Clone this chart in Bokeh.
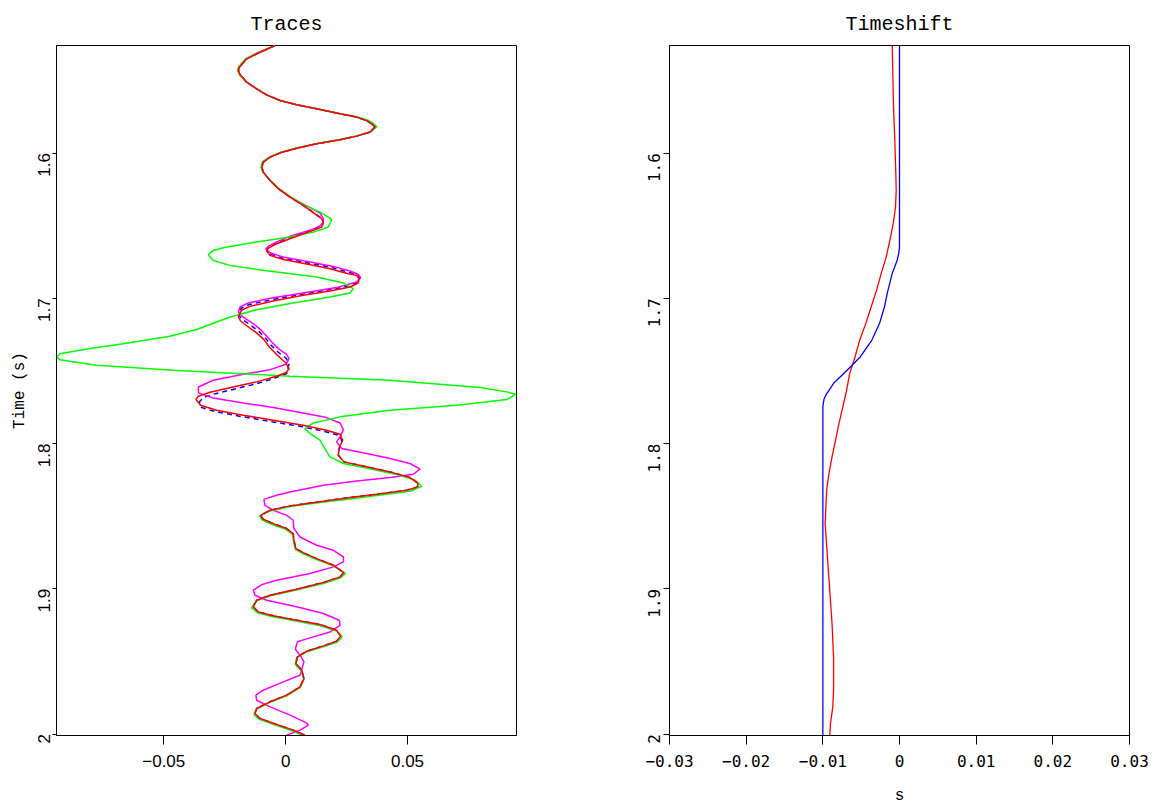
import math
from bokeh.plotting import figure
from bokeh.layouts import row
from bokeh.models import FixedTicker, Range1d
from bokeh.embed import file_html
from bokeh.resources import INLINE

# ---- trace amplitudes (x) against time in seconds (t) ----
# upper part, common to the red, magenta and blue traces
top_pts = [(-0.0044, 1.5259), (-0.0119, 1.5316), (-0.0160, 1.5351), (-0.0190, 1.5408), (-0.0194, 1.5431),
           (-0.0187, 1.5461), (-0.0160, 1.5511), (-0.0119, 1.5557), (-0.0078, 1.5599), (-0.0023, 1.5638),
           (0.0045, 1.5667), (0.0127, 1.5695), (0.0223, 1.5729), (0.0291, 1.5752), (0.0332, 1.5775),
           (0.0353, 1.5798), (0.0367, 1.5821), (0.0346, 1.5855), (0.0291, 1.5883), (0.0223, 1.5908),
           (0.0127, 1.5936), (0.0045, 1.5966), (-0.0023, 1.5998), (-0.0064, 1.6028), (-0.0092, 1.6062),
           (-0.0098, 1.6096), (-0.0092, 1.6131), (-0.0064, 1.6188), (-0.0030, 1.6245), (0.0018, 1.6303)]

# red trace, middle section
red_mid = [(0.0072, 1.6360), (0.0120, 1.6418), (0.0148, 1.6452), (0.0155, 1.6479), (0.0148, 1.6509),
           (0.0114, 1.6532), (0.0072, 1.6555), (0.0018, 1.6590), (-0.0037, 1.6624), (-0.0071, 1.6654),
           (-0.0078, 1.6674), (-0.0064, 1.6704), (-0.0010, 1.6732), (0.0086, 1.6764), (0.0182, 1.6796),
           (0.0257, 1.6830), (0.0291, 1.6841), (0.0301, 1.6864), (0.0298, 1.6894), (0.0264, 1.6922),
           (0.0182, 1.6949), (0.0072, 1.6979), (-0.0051, 1.7018), (-0.0146, 1.7055), (-0.0181, 1.7082),
           (-0.0194, 1.7128), (-0.0185, 1.7156), (-0.0157, 1.7192), (-0.0119, 1.7238), (-0.0089, 1.7284),
           (-0.0067, 1.7335), (-0.0034, 1.7392), (0.0001, 1.7445), (0.0014, 1.7484), (0.0004, 1.7509),
           (-0.0037, 1.7536), (-0.0119, 1.7575), (-0.0215, 1.7610), (-0.0310, 1.7647), (-0.0358, 1.7674),
           (-0.0368, 1.7697), (-0.0349, 1.7736), (-0.0283, 1.7770), (-0.0174, 1.7805), (-0.0051, 1.7839),
           (0.0072, 1.7874), (0.0168, 1.7908), (0.0223, 1.7936), (0.0234, 1.7977), (0.0220, 1.8027),
           (0.0216, 1.8080), (0.0239, 1.8126)]

# lower part, common to the red and blue traces
tail_pts = [(0.0332, 1.8160), (0.0428, 1.8195), (0.0510, 1.8234), (0.0542, 1.8271), (0.0542, 1.8298),
            (0.0497, 1.8321), (0.0373, 1.8349), (0.0264, 1.8371), (0.0155, 1.8397), (0.0018, 1.8429),
            (-0.0064, 1.8459), (-0.0103, 1.8494), (-0.0092, 1.8521), (-0.0051, 1.8551), (0.0004, 1.8585),
            (0.0031, 1.8620), (0.0034, 1.8666), (0.0042, 1.8723), (0.0072, 1.8751), (0.0127, 1.8792),
            (0.0196, 1.8838), (0.0239, 1.8888), (0.0223, 1.8918), (0.0155, 1.8957), (0.0045, 1.9003),
            (-0.0064, 1.9044), (-0.0119, 1.9079), (-0.0133, 1.9124), (-0.0112, 1.9159), (-0.0051, 1.9186),
            (0.0045, 1.9216), (0.0141, 1.9246), (0.0209, 1.9285), (0.0226, 1.9324), (0.0209, 1.9361),
            (0.0155, 1.9393), (0.0086, 1.9430), (0.0048, 1.9469), (0.0042, 1.9515), (0.0066, 1.9560),
            (0.0075, 1.9618), (0.0059, 1.9675), (0.0004, 1.9732), (-0.0064, 1.9778), (-0.0119, 1.9824),
            (-0.0126, 1.9859), (-0.0105, 1.9893), (-0.0037, 1.9934), (0.0031, 1.9973), (0.0079, 2.0008)]

# blue dashed trace, middle section
blue_mid = [(0.0072, 1.6360), (0.0120, 1.6416), (0.0148, 1.6450), (0.0154, 1.6466), (0.0148, 1.6497),
            (0.0114, 1.6525), (0.0072, 1.6550), (0.0018, 1.6582), (-0.0037, 1.6618), (-0.0071, 1.6648),
            (-0.0079, 1.6668), (-0.0064, 1.6695), (-0.0010, 1.6724), (0.0093, 1.6757), (0.0189, 1.6788),
            (0.0260, 1.6821), (0.0295, 1.6838), (0.0305, 1.6860), (0.0295, 1.6890), (0.0237, 1.6924),
            (0.0072, 1.6971), (-0.0058, 1.7009), (-0.0150, 1.7043), (-0.0184, 1.7070), (-0.0194, 1.7111),
            (-0.0180, 1.7142), (-0.0145, 1.7183), (-0.0111, 1.7226), (-0.0085, 1.7269), (-0.0062, 1.7318),
            (-0.0032, 1.7369), (0.0003, 1.7415), (0.0014, 1.7450), (0.0004, 1.7518), (-0.0051, 1.7553),
            (-0.0119, 1.7587), (-0.0201, 1.7621), (-0.0297, 1.7660), (-0.0338, 1.7683), (-0.0354, 1.7713),
            (-0.0345, 1.7752), (-0.0283, 1.7782), (-0.0174, 1.7816), (-0.0051, 1.7851), (0.0072, 1.7885),
            (0.0168, 1.7920), (0.0223, 1.7945), (0.0231, 1.7988), (0.0220, 1.8034), (0.0216, 1.8080),
            (0.0239, 1.8126)]

# magenta trace below the common upper part
magenta_rest = [(0.0079, 1.6356), (0.0141, 1.6413), (0.0155, 1.6452), (0.0152, 1.6486), (0.0127, 1.6516),
                (0.0072, 1.6544), (0.0018, 1.6573), (-0.0037, 1.6612), (-0.0071, 1.6642), (-0.0081, 1.6661),
                (-0.0064, 1.6686), (-0.0010, 1.6716), (0.0100, 1.6750), (0.0196, 1.6780), (0.0264, 1.6812),
                (0.0298, 1.6835), (0.0308, 1.6857), (0.0291, 1.6887), (0.0209, 1.6926), (0.0072, 1.6963),
                (-0.0064, 1.7000), (-0.0153, 1.7032), (-0.0187, 1.7059), (-0.0194, 1.7094), (-0.0176, 1.7128),
                (-0.0133, 1.7174), (-0.0103, 1.7215), (-0.0081, 1.7254), (-0.0057, 1.7300), (-0.0030, 1.7346),
                (0.0004, 1.7385), (0.0014, 1.7415), (0.0001, 1.7454), (-0.0064, 1.7491), (-0.0174, 1.7523),
                (-0.0297, 1.7564), (-0.0358, 1.7610), (-0.0358, 1.7651), (-0.0297, 1.7686), (-0.0174, 1.7720),
                (-0.0051, 1.7752), (0.0072, 1.7789), (0.0168, 1.7821), (0.0223, 1.7858), (0.0237, 1.7904),
                (0.0223, 1.7954), (0.0209, 1.7988), (0.0230, 1.8034), (0.0332, 1.8069), (0.0428, 1.8103),
                (0.0510, 1.8137), (0.0551, 1.8176), (0.0524, 1.8211), (0.0428, 1.8234), (0.0291, 1.8257),
                (0.0155, 1.8287), (0.0018, 1.8333), (-0.0037, 1.8356), (-0.0089, 1.8384), (-0.0085, 1.8425),
                (-0.0051, 1.8459), (0.0004, 1.8494), (0.0031, 1.8528), (0.0034, 1.8585), (0.0059, 1.8643),
                (0.0127, 1.8700), (0.0196, 1.8735), (0.0237, 1.8780), (0.0237, 1.8815), (0.0196, 1.8849),
                (0.0100, 1.8895), (-0.0037, 1.8941), (-0.0098, 1.8971), (-0.0133, 1.9010), (-0.0126, 1.9044),
                (-0.0078, 1.9079), (0.0045, 1.9124), (0.0155, 1.9170), (0.0220, 1.9216), (0.0223, 1.9251),
                (0.0182, 1.9297), (0.0100, 1.9338), (0.0048, 1.9365), (0.0040, 1.9416), (0.0059, 1.9457),
                (0.0075, 1.9503), (0.0059, 1.9595), (-0.0010, 1.9641), (-0.0092, 1.9698), (-0.0122, 1.9732),
                (-0.0119, 1.9767), (-0.0064, 1.9813), (0.0018, 1.9870), (0.0086, 1.9923), (0.0093, 1.9939),
                (0.0059, 1.9973), (0.0004, 2.0008)]

# green trace
green_pts = [(-0.0044, 1.5259), (-0.0122, 1.5314), (-0.0163, 1.5349), (-0.0193, 1.5406), (-0.0197, 1.5429),
             (-0.0190, 1.5459), (-0.0163, 1.5509), (-0.0122, 1.5555), (-0.0081, 1.5597), (-0.0026, 1.5636),
             (0.0042, 1.5665), (0.0124, 1.5693), (0.0220, 1.5727), (0.0291, 1.5749), (0.0336, 1.5772),
             (0.0360, 1.5796), (0.0374, 1.5818), (0.0350, 1.5852), (0.0294, 1.5880), (0.0226, 1.5905),
             (0.0130, 1.5933), (0.0048, 1.5963), (-0.0020, 1.5995), (-0.0064, 1.6025), (-0.0095, 1.6059),
             (-0.0101, 1.6094), (-0.0095, 1.6129), (-0.0064, 1.6186), (-0.0028, 1.6243), (0.0020, 1.6301),
             (0.0079, 1.6360), (0.0141, 1.6406), (0.0189, 1.6457), (0.0175, 1.6509), (0.0114, 1.6544),
             (0.0018, 1.6578), (-0.0119, 1.6612), (-0.0256, 1.6651), (-0.0297, 1.6670), (-0.0317, 1.6700),
             (-0.0297, 1.6739), (-0.0228, 1.6773), (-0.0119, 1.6801), (0.0127, 1.6853), (0.0237, 1.6894),
             (0.0278, 1.6933), (0.0264, 1.6963), (0.0182, 1.6991), (0.0018, 1.7036), (-0.0119, 1.7078),
             (-0.0228, 1.7128), (-0.0365, 1.7215), (-0.0475, 1.7261), (-0.0666, 1.7312), (-0.0803, 1.7346),
             (-0.0926, 1.7381), (-0.0940, 1.7403), (-0.0926, 1.7422), (-0.0776, 1.7461), (-0.0461, 1.7495),
             (0.0018, 1.7536), (0.0428, 1.7564), (0.0797, 1.7614), (0.0907, 1.7644), (0.0945, 1.7660),
             (0.0907, 1.7697), (0.0702, 1.7736), (0.0428, 1.7770), (0.0223, 1.7816), (0.0114, 1.7858),
             (0.0079, 1.7897), (0.0100, 1.7931), (0.0141, 1.7977), (0.0161, 1.8034), (0.0182, 1.8092),
             (0.0237, 1.8137), (0.0360, 1.8179), (0.0469, 1.8218), (0.0531, 1.8252), (0.0558, 1.8294),
             (0.0510, 1.8328), (0.0373, 1.8358), (0.0264, 1.8381), (0.0155, 1.8402), (0.0018, 1.8434),
             (-0.0064, 1.8464), (-0.0108, 1.8499), (-0.0096, 1.8527), (-0.0055, 1.8557), (0.0001, 1.8591),
             (0.0029, 1.8626), (0.0032, 1.8672), (0.0040, 1.8729), (0.0070, 1.8757), (0.0127, 1.8798),
             (0.0198, 1.8844), (0.0245, 1.8894), (0.0226, 1.8924), (0.0155, 1.8963), (0.0043, 1.9009),
             (-0.0066, 1.9050), (-0.0122, 1.9085), (-0.0140, 1.9130), (-0.0115, 1.9165), (-0.0053, 1.9192),
             (0.0043, 1.9222), (0.0139, 1.9252), (0.0209, 1.9291), (0.0232, 1.9330), (0.0212, 1.9367),
             (0.0155, 1.9399), (0.0084, 1.9436), (0.0045, 1.9475), (0.0040, 1.9521), (0.0064, 1.9566),
             (0.0075, 1.9624), (0.0059, 1.9681), (0.0002, 1.9738), (-0.0066, 1.9784), (-0.0121, 1.9830),
             (-0.0130, 1.9865), (-0.0108, 1.9899), (-0.0039, 1.9940), (0.0029, 1.9979), (0.0075, 2.0012)]

# ---- time shifts (s) against time (s) ----
shift_red = [(-0.00095, 1.5259), (-0.00087, 1.5454), (-0.00078, 1.5683), (-0.00061, 1.5913), (-0.00048, 1.6142),
             (-0.00043, 1.6257), (-0.00052, 1.6372), (-0.00082, 1.6486), (-0.00126, 1.6601), (-0.00174, 1.6716),
             (-0.00239, 1.6830), (-0.0030, 1.6945), (-0.0037, 1.7060), (-0.0044, 1.7174), (-0.0052, 1.7289),
             (-0.0058, 1.7404), (-0.0065, 1.7518), (-0.0069, 1.7633), (-0.0079, 1.7862), (-0.0088, 1.8092),
             (-0.0092, 1.8206), (-0.0095, 1.8321), (-0.0097, 1.8551), (-0.0094, 1.8780), (-0.0091, 1.9009),
             (-0.0088, 1.9239), (-0.0086, 1.9469), (-0.0086, 1.9583), (-0.0086, 1.9698), (-0.0087, 1.9813),
             (-0.0090, 1.9927), (-0.0091, 2.0008)]

shift_blue = [(0.0, 1.5259), (0.0, 1.6645), (-0.0001, 1.6690), (-0.0003, 1.6737), (-0.00095, 1.6828),
              (-0.0016, 1.6966), (-0.00196, 1.7058), (-0.0026, 1.7172), (-0.0036, 1.7287), (-0.0051, 1.7402),
              (-0.0068, 1.7493), (-0.0086, 1.7585), (-0.0092, 1.7633), (-0.0096, 1.7665), (-0.00985, 1.7695),
              (-0.0100, 1.7745), (-0.0100, 2.0008)]

time_ticks = [1.6, 1.7, 1.8, 1.9, 2.0]
time_labels = {2.0: "2"}
trace_ticks = [-0.05, 0.0, 0.05]
trace_labels = {-0.05: "\u22120.05", 0.0: "0", 0.05: "0.05"}
shift_ticks = [-0.03, -0.02, -0.01, 0.0, 0.01, 0.02, 0.03]
shift_labels = {-0.03: "\u22120.03", -0.02: "\u22120.02", -0.01: "\u22120.01", 0.0: "0",
                0.01: "0.01", 0.02: "0.02", 0.03: "0.03"}

T_MIN, T_MAX = 1.5259, 2.001
TITLE_FONT = "Liberation Mono"
SANS = "Liberation Sans"
MONO = "DejaVu Sans Mono"


def xs(pts):
    return [p[0] for p in pts]


def ts(pts):
    return [p[1] for p in pts]


def base_figure(title, x_range, left, right):
    p = figure(frame_width=460, frame_height=690,
               x_range=x_range, y_range=Range1d(T_MAX, T_MIN),
               min_border_left=left, min_border_right=right,
               min_border_top=45, min_border_bottom=72,
               output_backend="svg", toolbar_location=None,
               background_fill_color="white", border_fill_color="white")
    p.title.text = title
    p.title.align = "center"
    p.title.text_font = TITLE_FONT
    p.title.text_font_size = "20px"
    p.title.text_font_style = "normal"
    p.title.text_color = "black"
    p.title.standoff = 20
    p.grid.visible = False
    p.outline_line_color = "black"
    p.outline_line_width = 1
    for ax in (p.xaxis[0], p.yaxis[0]):
        ax.axis_line_color = "black"
        ax.major_tick_line_color = "black"
        ax.minor_tick_line_color = None
        ax.major_tick_in = 0
        ax.major_label_text_color = "black"
        ax.axis_label_text_color = "black"
    p.yaxis.ticker = FixedTicker(ticks=time_ticks)
    p.yaxis.major_label_overrides = time_labels
    p.yaxis.major_label_orientation = math.pi / 2
    return p


# left panel: traces
p1 = base_figure("Traces", Range1d(-0.0940, 0.0947), 56, 64)
p1.xaxis.ticker = FixedTicker(ticks=trace_ticks)
p1.xaxis.major_label_overrides = trace_labels
p1.xaxis.major_tick_out = 9
p1.xaxis.major_label_standoff = 10
p1.xaxis.major_label_text_font = SANS
p1.xaxis.major_label_text_font_size = "17px"
p1.yaxis.major_tick_out = 4
p1.yaxis.major_label_standoff = 8
p1.yaxis.major_label_text_font = SANS
p1.yaxis.major_label_text_font_size = "17px"
p1.yaxis.axis_label = "Time (s)"
p1.yaxis.axis_label_text_font = TITLE_FONT
p1.yaxis.axis_label_text_font_size = "16px"
p1.yaxis.axis_label_text_font_style = "normal"
p1.yaxis.axis_label_standoff = 1

magenta = top_pts + magenta_rest
red = top_pts + red_mid + tail_pts
blue = top_pts + blue_mid + tail_pts
p1.line(xs(blue), ts(blue), line_color="#0000ff", line_width=1.5, line_dash="5 4")
p1.line(xs(magenta), ts(magenta), line_color="#ff00ff", line_width=1.5)
p1.line(xs(green_pts), ts(green_pts), line_color="#00ff00", line_width=1.5)
p1.line(xs(red), ts(red), line_color="#ff0000", line_width=1.5)

# right panel: time shifts
p2 = base_figure("Timeshift", Range1d(-0.03, 0.03), 89, 24)
p2.xaxis.ticker = FixedTicker(ticks=shift_ticks)
p2.xaxis.major_label_overrides = shift_labels
p2.xaxis.major_tick_out = 9
p2.xaxis.major_label_standoff = 10
p2.xaxis.major_label_text_font = MONO
p2.xaxis.major_label_text_font_size = "16px"
p2.xaxis.axis_label = "s"
p2.xaxis.axis_label_text_font = TITLE_FONT
p2.xaxis.axis_label_text_font_size = "16px"
p2.xaxis.axis_label_text_font_style = "normal"
p2.xaxis.axis_label_standoff = 17
p2.yaxis.major_tick_out = 6
p2.yaxis.major_label_standoff = 9
p2.yaxis.major_label_text_font = MONO
p2.yaxis.major_label_text_font_size = "16px"

p2.line(xs(shift_red), ts(shift_red), line_color="#ff0000", line_width=1.3)
p2.line(xs(shift_blue), ts(shift_blue), line_color="#0000ff", line_width=1.3)

layout = row(p1, p2)
open("out.html", "w").write(file_html(layout, INLINE))
